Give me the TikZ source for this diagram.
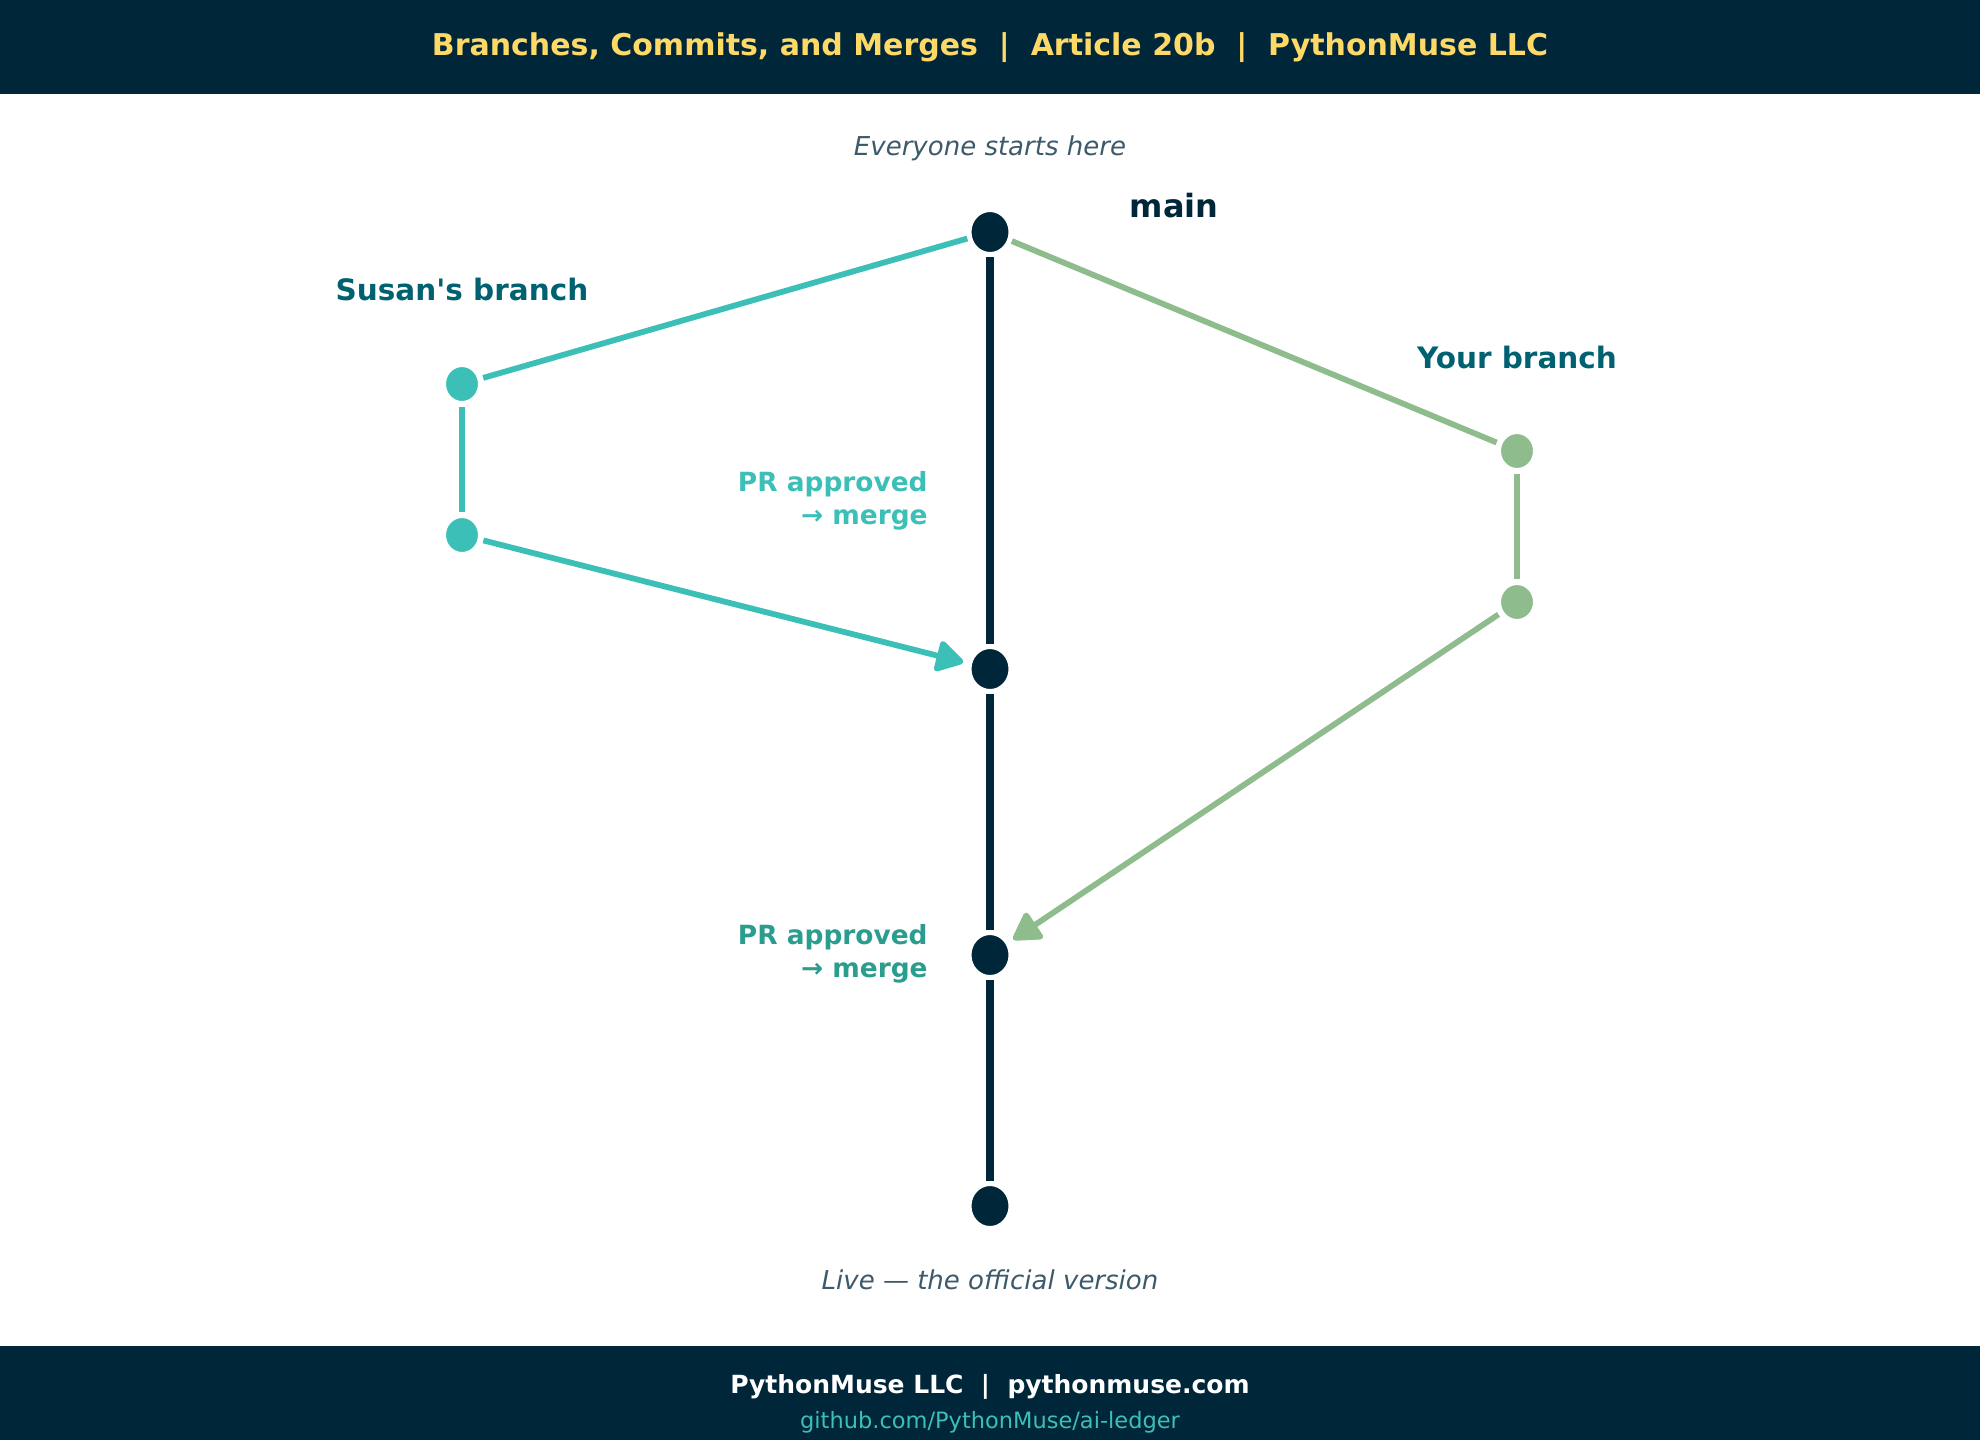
\documentclass[tikz,border=0pt]{standalone}
\usepackage{fontspec}
\setmainfont{DejaVu Sans}
\usepackage{tikz}
\usetikzlibrary{shapes,arrows.meta}

\definecolor{navy}{HTML}{00263A}
\definecolor{gold}{HTML}{FFD966}
\definecolor{susan}{HTML}{3CBFB7}
\definecolor{yours}{HTML}{8FBC8C}
\definecolor{labelteal}{HTML}{006170}
\definecolor{mergeteal}{HTML}{2A9D8F}
\definecolor{note}{HTML}{3D5A6B}

\begin{document}
\begin{tikzpicture}[x=1pt,y=1pt,yscale=-0.5,xscale=0.5,
    commit/.style={ellipse,fill=navy,draw=white,line width=1pt,minimum width=19.5pt,minimum height=21pt,inner sep=0pt,outer sep=2pt},
    scommit/.style={commit,fill=susan,minimum width=17pt,minimum height=18pt,outer sep=2.5pt},
    ycommit/.style={scommit,fill=yours},
    trunk/.style={navy,line width=3.8pt},
    sline/.style={susan,line width=2.9pt},
    yline/.style={yours,line width=2.9pt},
    merge/.style={-{Triangle[length=15pt,width=17pt,round]},shorten >=2pt},
    branchlabel/.style={labelteal,font=\fontsize{14.75}{18}\selectfont\bfseries},
    notelabel/.style={note,font=\fontsize{13}{16}\selectfont\itshape},
    prlabel/.style={anchor=east,align=right,inner sep=0pt,font=\fontsize{13.2}{16.5}\selectfont\bfseries}]
    \useasboundingbox (0,0) rectangle (1980,1440);
    
    %Shape: Header band
    \fill[navy] (0,0) rectangle (1980,93.5);
    %Shape: Footer band
    \fill[navy] (0,1346) rectangle (1980,1440);
    
    % Text Node
    \draw (990,47.5) node[gold,font=\fontsize{15}{18}\selectfont\bfseries] (title) {Branches, Commits, and Merges~~|~~Article 20b~~|~~PythonMuse LLC};
    % Text Node
    \draw (990,1387) node[white,font=\fontsize{12.5}{15}\selectfont\bfseries] (foot) {PythonMuse LLC~~|~~pythonmuse.com};
    % Text Node
    \draw (990,1422) node[susan,font=\fontsize{11.25}{14}\selectfont] (repo) {github.com/PythonMuse/ai-ledger};
    
    %Shape: Commits on main
    \draw (990,232) node[commit] (m1) {};
    \draw (990,669) node[commit] (m2) {};
    \draw (990,955) node[commit] (m3) {};
    \draw (990,1206) node[commit] (m4) {};
    %Shape: Commits on Susan's branch
    \draw (462,384) node[scommit] (s1) {};
    \draw (462,535) node[scommit] (s2) {};
    %Shape: Commits on your branch
    \draw (1517,451) node[ycommit] (y1) {};
    \draw (1517,602) node[ycommit] (y2) {};
    
    %Straight Lines: main
    \draw[trunk] (m1) -- (m2);
    \draw[trunk] (m2) -- (m3);
    \draw[trunk] (m3) -- (m4);
    
    %Straight Lines: Susan's branch
    \draw[sline] (m1) -- (s1);
    \draw[sline] (s1) -- (s2);
    \draw[sline,merge] (s2) -- (m2);
    
    %Straight Lines: your branch
    \draw[yline] (m1) -- (y1);
    \draw[yline] (y1) -- (y2);
    \draw[yline,merge] (y2) -- (m3);
    
    % Text Node
    \draw (990,148) node[notelabel] (start) {Everyone starts here};
    % Text Node
    \draw (990,1280) node[notelabel] (live) {Live — the official version};
    % Text Node
    \draw (1174,206) node[navy,font=\fontsize{16}{19}\selectfont\bfseries] (mainlbl) {main};
    % Text Node
    \draw (462,289) node[branchlabel] (susanlbl) {Susan\textquotesingle s branch};
    % Text Node
    \draw (1517,357) node[branchlabel] (yourlbl) {Your branch};
    % Text Node
    \draw (928,501) node[prlabel,susan] (pr1) {PR approved\\→ merge};
    % Text Node
    \draw (928,954) node[prlabel,mergeteal] (pr2) {PR approved\\→ merge};
    
\end{tikzpicture}
\end{document}
